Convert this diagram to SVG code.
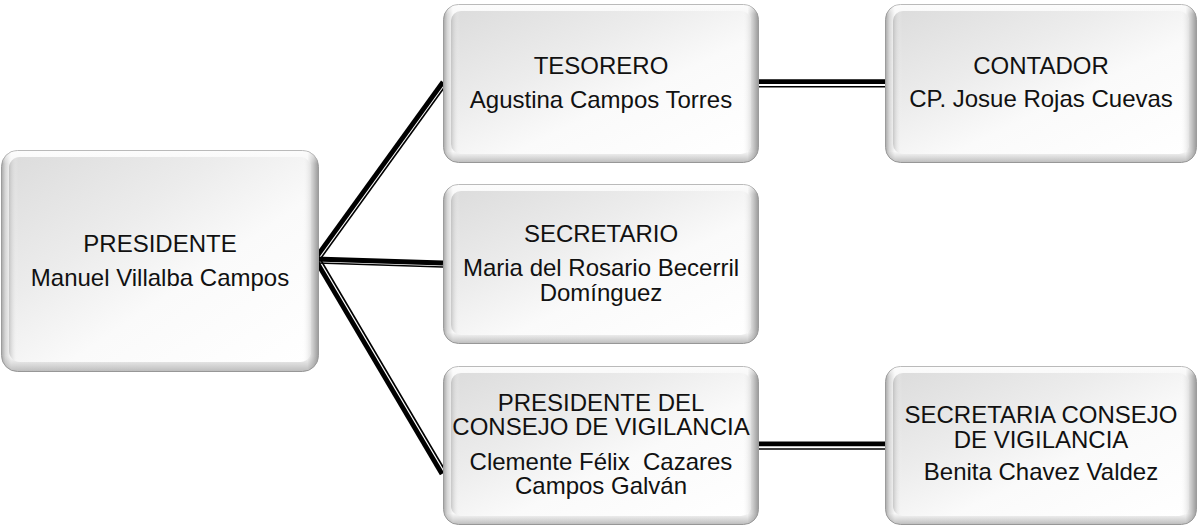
<svg xmlns="http://www.w3.org/2000/svg" width="1199" height="526" viewBox="0 0 1199 526">
<defs>
<linearGradient id="rimH" x1="0" y1="0" x2="1" y2="0">
<stop offset="0" stop-color="#a9a9a9"/>
<stop offset="0.012" stop-color="#d6d6d6"/>
<stop offset="0.03" stop-color="#f9f9f9"/>
<stop offset="0.965" stop-color="#f7f7f7"/>
<stop offset="0.985" stop-color="#c4c4c4"/>
<stop offset="1" stop-color="#9a9a9a"/>
</linearGradient>
<linearGradient id="rimV" x1="0" y1="0" x2="0" y2="1">
<stop offset="0" stop-color="#ffffff" stop-opacity="0.6"/>
<stop offset="0.06" stop-color="#ffffff" stop-opacity="0"/>
<stop offset="0.93" stop-color="#9a9a9a" stop-opacity="0"/>
<stop offset="1" stop-color="#8a8a8a" stop-opacity="0.55"/>
</linearGradient>
<linearGradient id="face" x1="0" y1="0" x2="1" y2="1">
<stop offset="0" stop-color="#dcdcdc"/>
<stop offset="0.35" stop-color="#ececec"/>
<stop offset="0.6" stop-color="#fafafa"/>
<stop offset="1" stop-color="#ffffff"/>
</linearGradient>
<linearGradient id="faceEdge" x1="0" y1="0" x2="1" y2="0">
<stop offset="0" stop-color="#b5b5b5" stop-opacity="0.7"/>
<stop offset="0.03" stop-color="#ffffff" stop-opacity="0"/>
<stop offset="0.97" stop-color="#ffffff" stop-opacity="0"/>
<stop offset="1" stop-color="#d0d0d0" stop-opacity="0.6"/>
</linearGradient>
</defs>
<style>
.rim{fill:url(#rimH);stroke:#9c9c9c;stroke-width:1}
.rimv{fill:url(#rimV)}
.face{fill:url(#face)}
.edge{fill:url(#faceEdge)}
text{font-family:"Liberation Sans",Arial,sans-serif;font-size:24px;fill:#111;text-anchor:middle}
.thick{stroke:#000;stroke-width:4.8;fill:none;stroke-linecap:butt}
.thin{stroke:#000;stroke-width:1.6;fill:none}
</style>

<g id="connectors">
<line class="thick" x1="315" y1="259" x2="443" y2="82"/>
<line class="thin" x1="318.5" y1="261.5" x2="446" y2="85"/>
<line class="thick" x1="315" y1="259" x2="443" y2="263"/>
<line class="thin" x1="318" y1="263" x2="443" y2="267"/>
<line class="thick" x1="315" y1="259" x2="442" y2="474"/>
<line class="thin" x1="319" y1="257" x2="446" y2="472"/>
<line class="thick" x1="758" y1="81.7" x2="886" y2="81.7"/>
<line class="thin" x1="758" y1="86.7" x2="886" y2="86.7"/>
<line class="thick" x1="758" y1="443.8" x2="886" y2="443.8"/>
<line class="thin" x1="758" y1="449" x2="886" y2="449"/>
</g>

<g id="presidente">
<rect class="rim" x="1.5" y="150.5" width="317" height="221" rx="16"/>
<rect class="rimv" x="1.5" y="150.5" width="317" height="221" rx="16"/>
<rect class="face" x="9" y="157" width="302" height="205" rx="11"/>
<rect class="edge" x="9" y="157" width="302" height="205" rx="11"/>
<text x="160" y="252">PRESIDENTE</text>
<text x="160" y="286">Manuel Villalba Campos</text>
</g>

<g id="tesorero">
<rect class="rim" x="443.5" y="4.5" width="315" height="158" rx="15"/>
<rect class="rimv" x="443.5" y="4.5" width="315" height="158" rx="15"/>
<rect class="face" x="451" y="11" width="300" height="143" rx="10"/>
<rect class="edge" x="451" y="11" width="300" height="143" rx="10"/>
<text x="601" y="74">TESORERO</text>
<text x="601" y="108">Agustina Campos Torres</text>
</g>

<g id="contador">
<rect class="rim" x="885.5" y="4.5" width="311" height="158" rx="15"/>
<rect class="rimv" x="885.5" y="4.5" width="311" height="158" rx="15"/>
<rect class="face" x="893" y="11" width="296" height="143" rx="10"/>
<rect class="edge" x="893" y="11" width="296" height="143" rx="10"/>
<text x="1041" y="74">CONTADOR</text>
<text x="1041" y="107">CP. Josue Rojas Cuevas</text>
</g>

<g id="secretario">
<rect class="rim" x="443.5" y="184.5" width="315" height="159" rx="15"/>
<rect class="rimv" x="443.5" y="184.5" width="315" height="159" rx="15"/>
<rect class="face" x="451" y="191" width="300" height="144" rx="10"/>
<rect class="edge" x="451" y="191" width="300" height="144" rx="10"/>
<text x="601" y="242">SECRETARIO</text>
<text x="601" y="276">Maria del Rosario Becerril</text>
<text x="601" y="301">Domínguez</text>
</g>

<g id="presidente-consejo">
<rect class="rim" x="443.5" y="366.5" width="315" height="158" rx="15"/>
<rect class="rimv" x="443.5" y="366.5" width="315" height="158" rx="15"/>
<rect class="face" x="451" y="373" width="300" height="143" rx="10"/>
<rect class="edge" x="451" y="373" width="300" height="143" rx="10"/>
<text x="601" y="411">PRESIDENTE DEL</text>
<text x="601" y="435">CONSEJO DE VIGILANCIA</text>
<text x="601" y="470" xml:space="preserve">Clemente Félix  Cazares</text>
<text x="601" y="494">Campos Galván</text>
</g>

<g id="secretaria-consejo">
<rect class="rim" x="885.5" y="366.5" width="311" height="158" rx="15"/>
<rect class="rimv" x="885.5" y="366.5" width="311" height="158" rx="15"/>
<rect class="face" x="893" y="373" width="296" height="143" rx="10"/>
<rect class="edge" x="893" y="373" width="296" height="143" rx="10"/>
<text x="1041" y="423">SECRETARIA CONSEJO</text>
<text x="1041" y="448">DE VIGILANCIA</text>
<text x="1041" y="480">Benita Chavez Valdez</text>
</g>
</svg>
